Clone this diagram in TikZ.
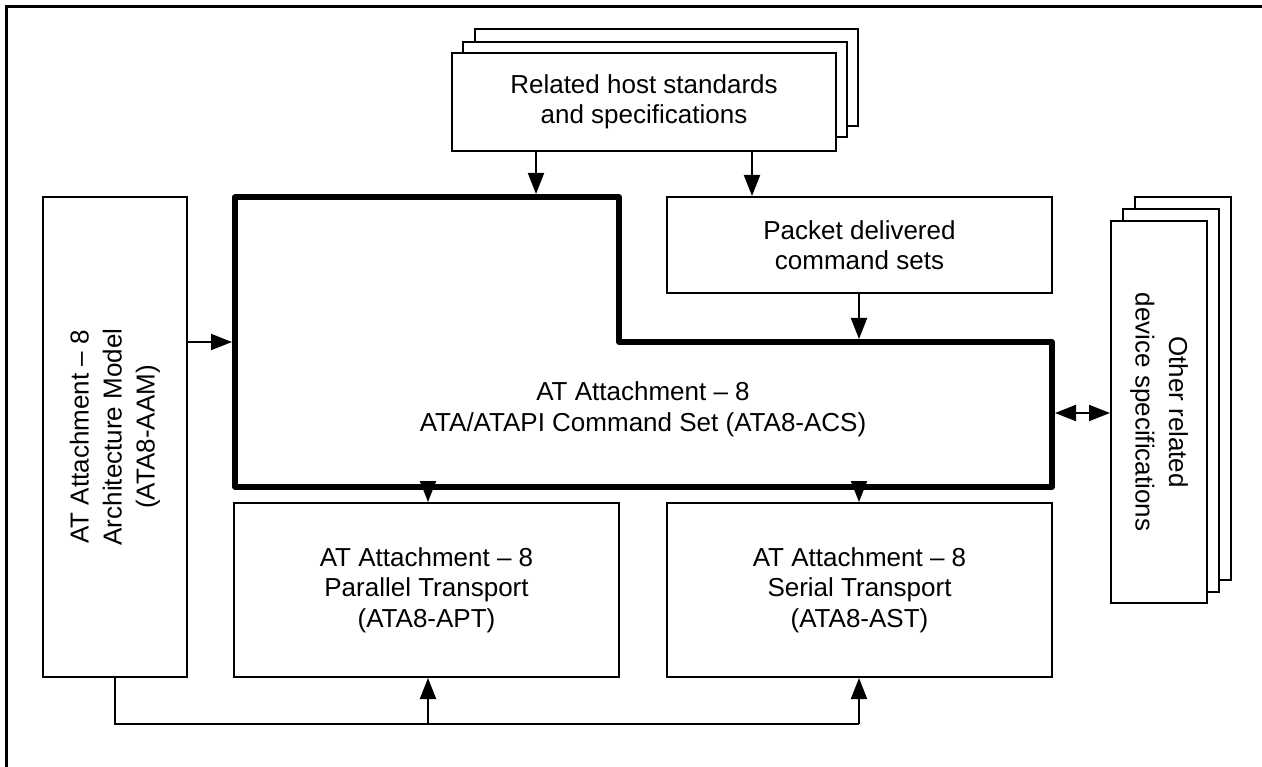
\documentclass[tikz,border=0pt]{standalone}
\usepackage{fontspec}
\setmainfont{Liberation Sans}
\usetikzlibrary{arrows.meta}
\begin{document}
\begin{tikzpicture}[x=1pt,y=-1pt,
  box/.style={draw, line width=2pt, fill=white, align=center, inner sep=0pt,
    font=\fontsize{26}{30.5}\selectfont},
  txt/.style={align=center, inner sep=0pt, font=\fontsize{26}{31}\selectfont},
  tip/.tip={Triangle[length=21pt,width=16pt]},
  arr/.style={line width=2pt, -tip},
  darr/.style={line width=2pt, tip-tip},
  thin/.style={line width=2pt},
  heavy/.style={line width=5.5pt, line join=round},
]
\useasboundingbox (0,0) rectangle (1262,767);
% outer frame (clipped)
\draw[line width=3pt] (6,767) -- (6,7) -- (1262,7);

% related host standards stack
\node[box, minimum width=383pt, minimum height=97pt] (hostB) at (666.5,77.5) {};
\node[box, minimum width=384pt, minimum height=95pt] (hostM) at (655,89.5) {};
\node[box, minimum width=384pt, minimum height=98pt] (hostF) at (644,102)
  {Related host standards\\and specifications};

% packet delivered command sets
\node[box, minimum width=385pt, minimum height=96pt] (packet) at (859.5,245)
  {Packet delivered\\command sets};

% ATA8-ACS L-shaped box
\coordinate (acsTL) at (235,197);
\coordinate (acsStep) at (619,342);
\coordinate (acsBR) at (1052,487);
\draw[heavy] (acsTL) -- (acsTL -| acsStep) -- (acsStep) -- (acsStep -| acsBR)
  -- (acsBR) -- (acsBR -| acsTL) -- cycle;
\node[txt] (acs) at (643,409.5) {AT Attachment – 8\\ATA/ATAPI Command Set (ATA8-ACS)};

% AAM
\node[box, minimum width=144pt, minimum height=480pt] (aam) at (115,437)
  {\rotatebox{90}{\def\arraystretch{1.08}\begin{tabular}{@{}c@{}}AT Attachment – 8\\Architecture Model\\(ATA8-AAM)\end{tabular}}};

% APT and AST
\node[box, minimum width=385pt, minimum height=174pt] (apt) at (426.5,590)
  {AT Attachment – 8\\Parallel Transport\\(ATA8-APT)};
\node[box, minimum width=385pt, minimum height=174pt] (ast) at (859.5,590)
  {AT Attachment – 8\\Serial Transport\\(ATA8-AST)};

% other related device specifications stack
\node[box, minimum width=96pt, minimum height=383pt] (othB) at (1183,388.5) {};
\node[box, minimum width=96pt, minimum height=383pt] (othM) at (1171,400.5) {};
\node[box, minimum width=96pt, minimum height=382pt] (othF) at (1159,412)
  {\rotatebox{-90}{\def\arraystretch{1.1}\begin{tabular}{@{}c@{}}Other related\\device specifications\end{tabular}}};

% connection points
\coordinate (inA) at (536,194);
\coordinate (inB) at (752,197);
\coordinate (inC) at (859,339);
\coordinate (inD) at (232,342);
\coordinate (outA) at (428,489);
\coordinate (outB) at (859,489);
\coordinate (sideR) at (1055,413);
\coordinate (busY) at (0,724);

% connectors
\draw[arr] (hostF.south -| inA) -- (inA);
\draw[arr] (hostF.south -| inB) -- (packet.north -| inB);
\draw[arr] (packet.south -| inC) -- (inC);
\draw[arr] (aam.east |- inD) -- (inD);
\draw[darr] (sideR) -- (othF.west |- sideR);
\draw[arr] (outA) -- (apt.north -| outA);
\draw[arr] (outB) -- (ast.north -| outB);
\draw[thin] (aam.south) -- (aam.south |- busY) -- (busY -| outB);
\draw[arr] (busY -| outA) -- (apt.south -| outA);
\draw[arr] (busY -| outB) -- (ast.south -| outB);
\end{tikzpicture}
\end{document}
